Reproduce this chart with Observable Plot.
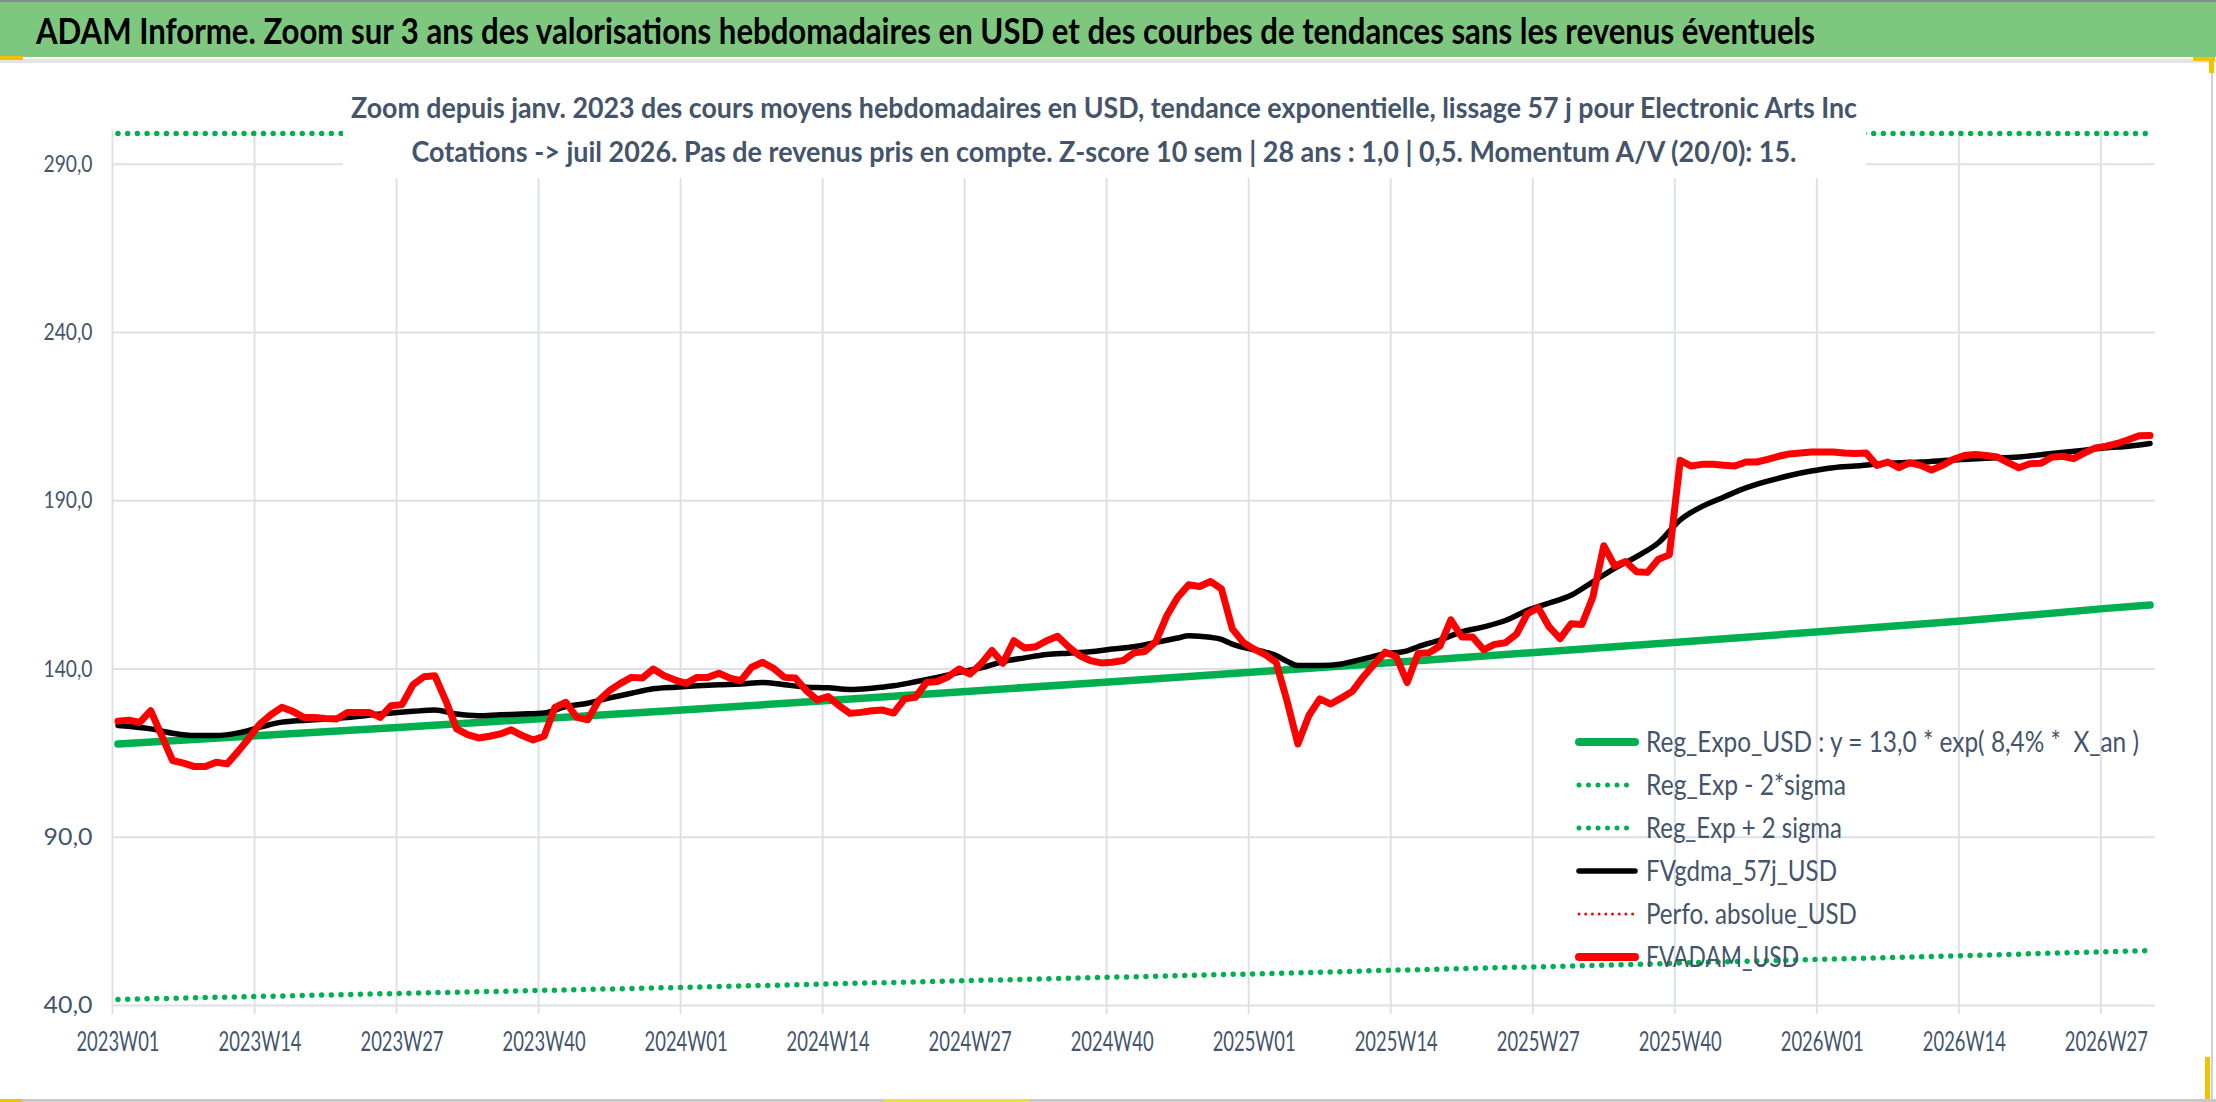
<!DOCTYPE html>
<html lang="fr">
<head>
<meta charset="UTF-8">
<title>ADAM Informe - Electronic Arts Inc</title>
<style>
  body { margin: 0; background: #ffffff; }
  #page { position: relative; width: 2216px; height: 1102px; overflow: hidden; background: #ffffff; }
  #graphique, #habillage { position: absolute; left: 0; top: 0; }
  svg text { font-family: Lato, "Noto Sans", sans-serif; }
  #habillage text { white-space: pre; }
</style>
</head>
<body>
<div id="page">
  <div id="graphique"></div>
  <svg id="habillage" width="2216" height="1102"></svg>
</div>

<script src="https://cdn.jsdelivr.net/npm/d3@7"></script>
<script src="https://cdn.jsdelivr.net/npm/@observablehq/plot@0.6"></script>

<script>
// semaines : index 0 = 2023W01, une valeur par semaine jusqu'à 2026W31
const nbSemaines = 187;

const titre = "ADAM Informe. Zoom sur 3 ans des valorisations hebdomadaires en USD et des courbes de tendances sans les revenus éventuels";
const sousTitre1 = "Zoom depuis janv. 2023 des cours moyens hebdomadaires en USD, tendance exponentielle, lissage 57 j pour Electronic Arts Inc";
const sousTitre2 = "Cotations -> juil 2026. Pas de revenus pris en compte. Z-score 10 sem | 28 ans : 1,0 | 0,5. Momentum A/V (20/0): 15.";

const etiquettesX = ["2023W01", "2023W14", "2023W27", "2023W40", "2024W01", "2024W14", "2024W27", "2024W40",
  "2025W01", "2025W14", "2025W27", "2025W40", "2026W01", "2026W14", "2026W27"];
const semainesEtiquettes = [0, 13, 26, 39, 52, 65, 78, 91, 104, 117, 130, 143, 156, 169, 182];

const ticksY = [40, 90, 140, 190, 240, 290];

// FVADAM_USD (rouge), une valeur par semaine
const fvadamUSD = [
  124.5, 124.8, 124.1, 127.6, 120.2, 112.8, 112.0, 111.0, 111.0, 112.3,
  111.8, 115.5, 119.5, 123.7, 126.4, 128.6, 127.4, 125.6, 125.6, 125.3,
  125.1, 127.1, 127.1, 127.1, 125.6, 129.1, 129.4, 135.3, 137.7, 138.0,
  130.6, 122.2, 120.5, 119.5, 120.0, 120.7, 121.9, 120.2, 118.9, 120.0,
  128.6, 130.1, 125.6, 124.9, 130.6, 133.6, 135.7, 137.5, 137.3, 140.0,
  138.0, 136.7, 135.7, 137.5, 137.5, 138.7, 137.3, 136.5, 140.5, 142.0,
  140.2, 137.5, 137.3, 133.6, 130.8, 131.8, 129.1, 126.8, 127.1, 127.6,
  127.8, 126.9, 131.1, 131.6, 136.0, 136.3, 137.7, 140.0, 138.5, 141.5,
  145.5, 141.7, 148.4, 146.2, 146.6, 148.4, 149.7, 146.6, 144.0, 142.5,
  141.8, 142.0, 142.5, 144.8, 145.2, 148.1, 155.8, 161.3, 165.0, 164.5,
  166.0, 163.8, 151.9, 147.9, 145.9, 144.3, 142.0, 130.6, 117.7, 126.1,
  131.1, 129.6, 131.4, 133.4, 137.7, 141.5, 145.0, 143.7, 136.0, 144.6,
  144.8, 146.8, 154.6, 149.5, 149.5, 145.7, 147.3, 147.8, 150.3, 156.4,
  158.2, 152.5, 149.0, 153.4, 153.2, 161.4, 176.6, 170.6, 171.9, 168.9,
  168.7, 172.6, 173.9, 202.0, 200.3, 200.8, 200.8, 200.5, 200.3, 201.5,
  201.5, 202.3, 203.2, 203.9, 204.2, 204.5, 204.5, 204.5, 204.2, 204.0,
  204.2, 200.5, 201.5, 199.8, 201.3, 200.5, 199.1, 200.5, 202.3, 203.4,
  203.7, 203.4, 203.0, 201.3, 199.8, 201.0, 201.1, 202.9, 203.2, 202.5,
  204.2, 205.7, 206.2, 207.0, 208.1, 209.3, 209.4
];

// FVgdma_57j_USD (noir), relevé aux semaines indiquées
const semainesGdma = [0, 3, 5, 7, 9, 11, 13, 15, 18, 21, 24, 27, 29, 31, 33, 35, 37, 39, 41, 43, 45, 47, 49,
  51, 53, 55, 57, 59, 61, 63, 65, 67, 69, 71, 73, 75, 77, 79, 81, 83, 85, 87, 89, 91, 93, 95, 97, 98,
  100, 101, 102, 103, 105, 106, 107, 108, 110, 112, 114, 116, 118, 119, 121, 123, 125, 127, 129, 131,
  133, 135, 137, 139, 141, 143, 145, 147, 149, 151, 153, 155, 157, 159, 162, 165, 168, 171, 174, 177,
  180, 182, 184, 186];
const fvgdmaUSD = [123.2, 122.2, 120.9, 120.2, 120.2, 121.0, 122.7, 124.2, 124.9, 125.6, 126.6, 127.4, 127.8,
  126.6, 126.1, 126.4, 126.6, 126.9, 128.8, 129.8, 131.4, 132.8, 134.1, 134.6, 135.0, 135.3, 135.5, 136.0,
  135.3, 134.6, 134.4, 133.9, 134.3, 135.0, 136.2, 137.5, 139.0, 140.3, 142.2, 143.3, 144.3, 144.7, 145.1,
  145.9, 146.6, 147.9, 149.2, 149.9, 149.4, 148.8, 147.4, 146.4, 145.0, 144.0, 142.3, 141.0, 141.0, 141.5,
  143.0, 144.5, 145.4, 146.6, 148.6, 151.0, 152.5, 154.4, 157.4, 159.6, 161.9, 165.9, 169.9, 173.4, 177.5,
  184.3, 188.3, 191.1, 193.8, 195.8, 197.5, 198.8, 199.8, 200.3, 201.1, 201.5, 202.1, 202.6, 203.0, 204.0,
  205.0, 205.7, 206.2, 207.0];

// Régression exponentielle et bandes à 2 sigma, relevées aux semaines indiquées
const semainesReg = [0, 13, 26, 39, 52, 65, 78, 91, 104, 117, 130, 143, 156, 169, 182, 186];
const regExpoUSD = [117.7, 120.2, 122.7, 125.3, 127.9, 130.6, 133.4, 136.2, 139.1, 142.0, 145.0, 148.0, 151.1,
  154.3, 158.0, 159.0];
const regExpMoins2Sigma = [41.8, 42.7, 43.6, 44.5, 45.4, 46.4, 47.4, 48.4, 49.4, 50.5, 51.5, 52.6, 53.7, 54.8,
  56.0, 56.3];
// hors échelle : la courbe reste collée au haut de la zone de tracé
const regExpPlus2Sigma = [331, 338, 345, 353, 360, 368, 375, 383, 392, 400, 408, 417, 425, 434, 444, 446];

const legende = [
  {nom: "Reg_Expo_USD : y = 13,0 * exp( 8,4% *  X_an )", largeur: 493, couleur: "#00b050", epaisseur: 8, tirets: null},
  {nom: "Reg_Exp - 2*sigma", largeur: 200, couleur: "#00b050", epaisseur: 5, tirets: "0 9.5"},
  {nom: "Reg_Exp + 2 sigma", largeur: 196, couleur: "#00b050", epaisseur: 5, tirets: "0 9.5"},
  {nom: "FVgdma_57j_USD", largeur: 191, couleur: "#000000", epaisseur: 5.5, tirets: null},
  {nom: "Perfo. absolue_USD", largeur: 211, couleur: "#ff0000", epaisseur: 3, tirets: "0 6.7"},
  {nom: "FVADAM_USD", largeur: 153, couleur: "#ff0000", epaisseur: 8, tirets: null}
];

const vert = "#00b050";
const gris = "#dde1e7";
const ardoise = "#44546a";
const pointille = {stroke: vert, strokeWidth: 5.5, strokeDasharray: "0 9.7", strokeLinecap: "round"};

const chart = Plot.plot({
  width: 2216,
  height: 1102,
  marginLeft: 112,
  marginRight: 61,
  marginTop: 130,
  marginBottom: 97,
  x: {type: "linear", domain: [0, nbSemaines]},
  y: {domain: [40, 300], clamp: true},
  style: {fontFamily: "Lato, 'Noto Sans', sans-serif", background: "transparent", overflow: "visible"},
  marks: [
    Plot.gridY(ticksY.slice(1), {stroke: gris, strokeOpacity: 1, strokeWidth: 2}),
    Plot.gridX(semainesEtiquettes, {stroke: gris, strokeOpacity: 1, strokeWidth: 2}),
    Plot.axisX(semainesEtiquettes, {tickSize: 9, tickFormat: () => "", stroke: gris, strokeWidth: 2, label: null}),
    Plot.ruleY([40], {stroke: gris, strokeWidth: 2}),
    Plot.axisY(ticksY, {tickSize: 0, tickPadding: 20, fontSize: 24, fill: ardoise, label: null,
      tickFormat: d => d.toFixed(1).replace(".", ",")}),
    Plot.text(etiquettesX, {x: (d, i) => semainesEtiquettes[i] + 0.5, y: () => 40, dy: 37,
      fontSize: 26, fill: ardoise}),
    Plot.line(regExpMoins2Sigma, {x: (d, i) => semainesReg[i] + 0.5, y: d => d, ...pointille}),
    Plot.line(regExpPlus2Sigma, {x: (d, i) => semainesReg[i] + 0.5, y: d => d, dy: 3, ...pointille}),
    Plot.line(regExpoUSD, {x: (d, i) => semainesReg[i] + 0.5, y: d => d, stroke: vert, strokeWidth: 7.5,
      strokeLinecap: "round"}),
    Plot.line(fvgdmaUSD, {x: (d, i) => semainesGdma[i] + 0.5, y: d => d, stroke: "#000000", strokeWidth: 5.5,
      strokeLinejoin: "round", strokeLinecap: "round", curve: "monotone-x"}),
    Plot.line(fvadamUSD, {x: (d, i) => i + 0.5, y: d => d, stroke: "#ff0000", strokeWidth: 7,
      strokeLinejoin: "round", strokeLinecap: "round"})
  ]
});
document.querySelector("#graphique").append(chart);

// libellés d'axes resserrés comme dans l'original (police étroite)
d3.select(chart).selectAll("g[aria-label='y-axis tick label'] text")
  .attr("textLength", 49).attr("lengthAdjust", "spacingAndGlyphs");
d3.select(chart).selectAll("g[aria-label='text'] text")
  .attr("textLength", 83).attr("lengthAdjust", "spacingAndGlyphs");

// habillage : bandeau, titres, légende
const hab = d3.select("#habillage");

hab.append("rect").attr("x", 0).attr("y", 0).attr("width", 2216).attr("height", 57).attr("fill", "#7dc87e");
hab.append("rect").attr("x", 0).attr("y", 0).attr("width", 2216).attr("height", 2).attr("fill", "#8c8c8c");
hab.append("rect").attr("x", 0).attr("y", 59).attr("width", 2216).attr("height", 4).attr("fill", "#e4e4e4");
hab.append("text").text(titre)
  .attr("x", 36).attr("y", 44)
  .attr("font-size", 36).attr("font-weight", "bold").attr("fill", "#000000")
  .attr("textLength", 1779).attr("lengthAdjust", "spacingAndGlyphs");

hab.append("rect").attr("x", 343).attr("y", 70).attr("width", 1523).attr("height", 108).attr("fill", "#ffffff");
hab.append("text").text(sousTitre1)
  .attr("x", 1104).attr("y", 118).attr("text-anchor", "middle")
  .attr("font-size", 29).attr("font-weight", "bold").attr("fill", ardoise)
  .attr("textLength", 1506).attr("lengthAdjust", "spacingAndGlyphs");
hab.append("text").text(sousTitre2)
  .attr("x", 1104).attr("y", 162).attr("text-anchor", "middle")
  .attr("font-size", 29).attr("font-weight", "bold").attr("fill", ardoise)
  .attr("textLength", 1385).attr("lengthAdjust", "spacingAndGlyphs");

legende.forEach((item, i) => {
  const base = 752 + i * 43;
  hab.append("line")
    .attr("x1", 1579).attr("x2", 1635).attr("y1", base - 10).attr("y2", base - 10)
    .attr("stroke", item.couleur)
    .attr("stroke-width", item.epaisseur)
    .attr("stroke-linecap", "round")
    .attr("stroke-dasharray", item.tirets);
  hab.append("text").text(item.nom)
    .attr("x", 1646).attr("y", base)
    .attr("font-size", 28).attr("fill", ardoise)
    .attr("textLength", item.largeur).attr("lengthAdjust", "spacingAndGlyphs");
});

// bords du cadre et poignées de sélection
hab.append("rect").attr("x", 2211).attr("y", 57).attr("width", 2).attr("height", 1045).attr("fill", "#d0d0d0");
hab.append("rect").attr("x", 0).attr("y", 1099).attr("width", 2216).attr("height", 3).attr("fill", "#c8c8c8");
const poignees = [
  [0, 56, 23, 4, "#f2c200"], [2193, 57, 22, 4, "#f2c200"], [2209, 57, 5, 16, "#f2c200"],
  [2205, 1057, 5, 42, "#f2c200"], [0, 1099, 22, 3, "#f2c200"], [884, 1099, 145, 3, "#e8e04a"]
];
for (const [x, y, w, h, c] of poignees) {
  hab.append("rect").attr("x", x).attr("y", y).attr("width", w).attr("height", h).attr("fill", c);
}
</script>
</body>
</html>
